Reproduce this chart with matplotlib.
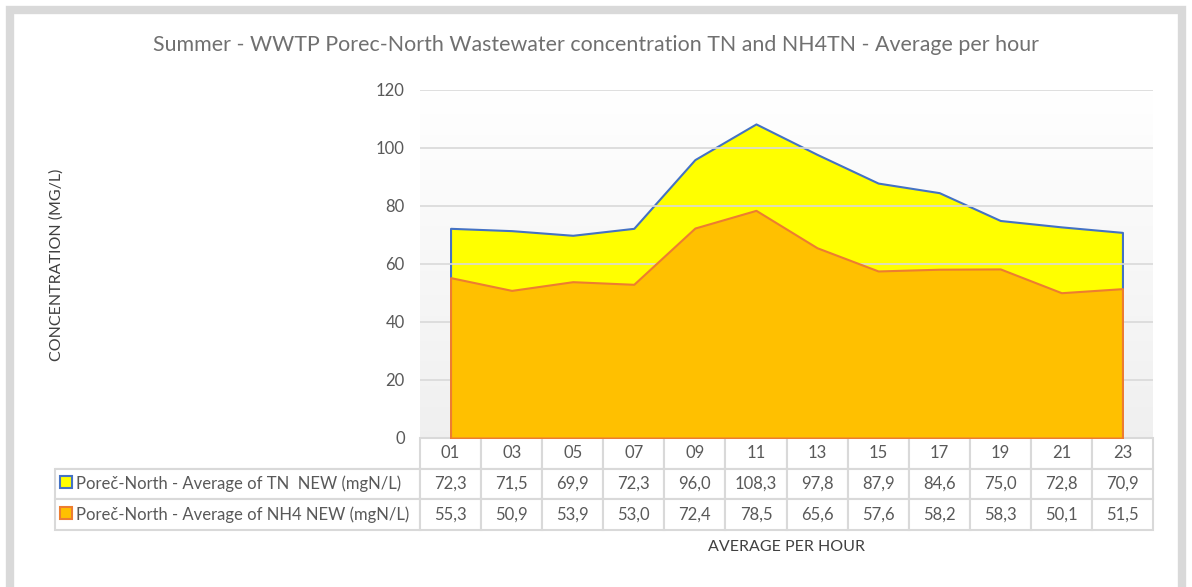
import matplotlib.pyplot as plt
import numpy as np
from matplotlib.patches import Rectangle

hours = ['01', '03', '05', '07', '09', '11', '13', '15', '17', '19', '21', '23']
tn = [72.3, 71.5, 69.9, 72.3, 96.0, 108.3, 97.8, 87.9, 84.6, 75.0, 72.8, 70.9]
nh4 = [55.3, 50.9, 53.9, 53.0, 72.4, 78.5, 65.6, 57.6, 58.2, 58.3, 50.1, 51.5]
tn_label = 'Poreč-North - Average of TN  NEW (mgN/L)'
nh4_label = 'Poreč-North - Average of NH4 NEW (mgN/L)'
title = 'Summer - WWTP Porec-North Wastewater concentration TN and NH4TN - Average per hour'

plt.rcParams['font.family'] = ['Lato', 'DejaVu Sans']
grey = '#595959'

fig = plt.figure(figsize=(11.92, 5.87), dpi=100)
# outer frame
fig.patches.append(Rectangle((10 / 1192, -0.05), 1172 / 1192, (587 - 10) / 587 + 0.05,
                             transform=fig.transFigure, fill=False,
                             edgecolor='#d9d9d9', linewidth=6))

ax = fig.add_axes([420 / 1192, 1 - 438 / 587, 733 / 1192, 348 / 587])
x = np.arange(len(hours))
ax.set_xlim(-0.5, len(hours) - 0.5)
ax.set_ylim(0, 120)

# plot area background gradient (white top -> light grey bottom)
grad = np.linspace(1.0, 0.94, 100).reshape(-1, 1)
ax.imshow(np.dstack([grad, grad, grad]), extent=[-0.5, len(hours) - 0.5, 0, 120],
          aspect='auto', zorder=0, origin='upper')

ax.fill_between(x, tn, color='#ffff00', edgecolor='#4472c4', linewidth=1.5, zorder=2)
ax.fill_between(x, nh4, color='#ffc000', edgecolor='#ed7d31', linewidth=1.5, zorder=3)

ax.set_yticks(range(0, 121, 20))
ax.yaxis.grid(True, color='#d9d9d9', linewidth=1.2, zorder=1)
ax.set_axisbelow(False)
for s in ax.spines.values():
    s.set_visible(False)
ax.tick_params(axis='y', length=0, pad=11, labelsize=12, labelcolor=grey)
ax.tick_params(axis='x', length=0, labelbottom=False)

fig.text(0.5, 1 - 45 / 587, title, ha='center', va='center', fontsize=15.4, color='#707070')
fig.text(57 / 1192, 1 - 265 / 587, 'CONCENTRATION (MG/L)', rotation=90, ha='center',
         va='center', fontsize=11.5, color='#404040')
fig.text(786 / 1192, 1 - 547 / 587, 'AVERAGE PER HOUR', ha='center', va='center',
         fontsize=11.5, color='#404040')

# data table
label_w = 365 / 733
col_w = 1.0 / len(hours)
cells = [[''] + hours,
         [tn_label] + ['%.1f' % v for v in tn],
         [nh4_label] + ['%.1f' % v for v in nh4]]
cells = [[c.replace('.', ',') if i > 0 else c for i, c in enumerate(r)] for r in cells]
tb = ax.table(cellText=cells, colWidths=[label_w] + [col_w] * len(hours),
              bbox=[-label_w, -92 / 348, 1 + label_w, 92 / 348], cellLoc='center')
tb.auto_set_font_size(False)
for (r, c), cell in tb.get_celld().items():
    cell.set_edgecolor('#d9d9d9')
    cell.set_linewidth(1.5)
    cell.get_text().set_color(grey)
    cell.get_text().set_fontsize(12)
    if r == 0 and c == 0:
        cell.visible_edges = 'B'
    if c == 0 and r > 0:
        cell._loc = 'left'
        cell.get_text().set_ha('left')
        cell.PAD = 0.058

# legend keys in the table
ax.plot([-label_w + 11 / 733], [-44 / 348], marker='s', markersize=9, transform=ax.transAxes,
        clip_on=False, markerfacecolor='#ffff00', markeredgecolor='#4472c4', mew=1.5)
ax.plot([-label_w + 11 / 733], [-75 / 348], marker='s', markersize=9, transform=ax.transAxes,
        clip_on=False, markerfacecolor='#ffc000', markeredgecolor='#ed7d31', mew=1.5)

fig.savefig('out.png', dpi=100)
